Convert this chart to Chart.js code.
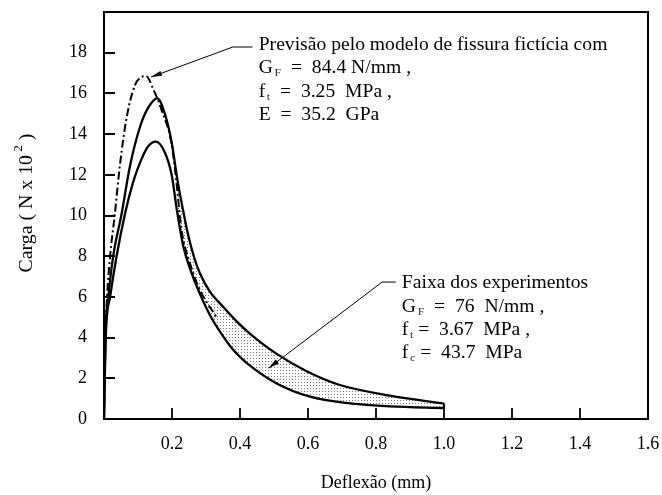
<!DOCTYPE html>
<html><head><meta charset="utf-8">
<script src="https://cdn.jsdelivr.net/npm/chart.js@4/dist/chart.umd.min.js"></script>
<style>html,body{margin:0;padding:0;background:#fff;}#wrap{width:662px;height:495px;}</style>
</head><body><div id="wrap"><canvas id="c" width="662" height="495"></canvas></div>
<script>
// ---- data ----
const xTickValues = [0, 0.2, 0.4, 0.6, 0.8, 1.0, 1.2, 1.4, 1.6];
const xTickLabels = ['', '0.2', '0.4', '0.6', '0.8', '1.0', '1.2', '1.4', '1.6'];
const yTickValues = [0, 2, 4, 6, 8, 10, 12, 14, 16, 18, 20];
const yTickLabels = ['0', '2', '4', '6', '8', '10', '12', '14', '16', '18', ''];

// prediction, fictitious crack model (dash-dot)
const predX = [0, 0.004, 0.009, 0.018, 0.032, 0.047, 0.067, 0.091, 0.110, 0.124, 0.145, 0.169, 0.199, 0.212, 0.228, 0.253, 0.282, 0.331];
const predY = [0, 4.0, 6.0, 8.0, 10.1, 12.5, 14.85, 16.4, 16.8, 16.85, 16.2, 15.2, 13.5, 11.8, 9.3, 7.65, 6.35, 5.0];

// experimental band, upper envelope
const upperX = [0, 0.004, 0.013, 0.027, 0.052, 0.076, 0.106, 0.130, 0.157, 0.179, 0.199, 0.216, 0.232, 0.248, 0.265, 0.282, 0.310, 0.351, 0.390, 0.429, 0.508, 0.596, 0.694, 0.841, 1.0];
const upperY = [0, 4.0, 6.0, 8.0, 10.1, 12.4, 14.36, 15.3, 15.76, 15.0, 13.6, 11.75, 10.3, 9.0, 7.95, 7.16, 6.3, 5.5, 4.8, 4.2, 3.2, 2.35, 1.67, 1.15, 0.76];

// experimental band, lower envelope
const lowerX = [0, 0.005, 0.018, 0.037, 0.062, 0.085, 0.106, 0.130, 0.153, 0.179, 0.199, 0.215, 0.233, 0.257, 0.282, 0.315, 0.351, 0.385, 0.420, 0.508, 0.606, 0.724, 0.841, 1.0];
const lowerY = [0, 4.0, 6.0, 8.0, 10.1, 11.6, 12.6, 13.4, 13.63, 13.1, 12.0, 10.2, 8.5, 7.2, 6.15, 5.0, 4.05, 3.3, 2.75, 1.75, 1.1, 0.77, 0.62, 0.54];

const bandStartX = 0.215; // shading begins on the descending branch

// ---- helpers ----
const pts = (xs, ys) => xs.map((x, i) => ({x: x, y: ys[i]}));
const upperPts = pts(upperX, upperY);
const lowerPts = pts(lowerX, lowerY);
const bandTop = upperPts.filter(p => p.x >= bandStartX);
const bandBottom = lowerPts.filter(p => p.x >= bandStartX);
const closer = [upperPts[upperPts.length - 1], lowerPts[lowerPts.length - 1]];

function stipple() {
  const c = document.createElement('canvas');
  c.width = 3; c.height = 3;
  const g = c.getContext('2d');
  g.fillStyle = '#fff'; g.fillRect(0, 0, 3, 3);
  g.fillStyle = '#7a7a7a'; g.fillRect(1, 1, 1, 1);
  return g.createPattern(c, 'repeat');
}

const FONT = 'Liberation Serif, "Times New Roman", serif';
const TEXT_SIZE = 18;
const STRETCH = 1.09;

const annotations = [
  {
    tip: [0.138, 16.8], knee: [0.379, 18.28], barEnd: 0.437, textX: 0.455,
    lineY: [18.38, 17.25, 16.07, 14.94],
    lines: [
      [['Previsão pelo modelo de fissura fictícia com']],
      [['G'], ['F', 's'], ['  =  84.4 N/mm ,']],
      [['f'], ['t', 's'], ['  =  3.25  MPa ,']],
      [['E  =  35.2  GPa']]
    ]
  },
  {
    tip: [0.484, 2.5], knee: [0.818, 6.73], barEnd: 0.858, textX: 0.876,
    lineY: [6.68, 5.50, 4.37, 3.24],
    lines: [
      [['Faixa dos experimentos']],
      [['G'], ['F', 's'], ['  =  76  N/mm ,']],
      [['f'], ['t', 's'], [' =  3.67  MPa ,']],
      [['f'], ['c', 's'], [' =  43.7  MPa']]
    ]
  }
];

const decor = {
  id: 'decor',
  afterDraw(chart) {
    const ctx = chart.ctx, xs = chart.scales.x, ys = chart.scales.y, a = chart.chartArea;
    ctx.save();
    ctx.strokeStyle = '#000'; ctx.fillStyle = '#000';
    // frame
    ctx.lineWidth = 2;
    ctx.strokeRect(a.left, a.top, a.right - a.left, a.bottom - a.top);
    // inward ticks
    ctx.lineWidth = 1.8;
    ctx.beginPath();
    ys.ticks.forEach(t => {
      if (t.value <= ys.min || t.value >= ys.max) return;
      const y = Math.round(ys.getPixelForValue(t.value));
      ctx.moveTo(a.left, y); ctx.lineTo(a.left + 11, y);
    });
    xs.ticks.forEach(t => {
      if (t.value <= xs.min || t.value >= xs.max) return;
      const x = Math.round(xs.getPixelForValue(t.value));
      ctx.moveTo(x, a.bottom); ctx.lineTo(x, a.bottom - 11);
    });
    ctx.stroke();

    // axis titles
    ctx.font = TEXT_SIZE + 'px ' + FONT;
    ctx.textBaseline = 'middle';
    ctx.textAlign = 'center';
    ctx.fillText('Deflexão (mm)', (a.left + a.right) / 2, 483);
    ctx.save();
    ctx.translate(27, 203);
    ctx.rotate(-Math.PI / 2);
    ctx.scale(1.1, 1);
    ctx.textAlign = 'left';
    const p1 = 'Carga ( N x 10', p3 = ' )';
    ctx.font = TEXT_SIZE + 'px ' + FONT;
    const w1 = ctx.measureText(p1).width, w3 = ctx.measureText(p3).width;
    ctx.font = '12px ' + FONT;
    const w2 = ctx.measureText('2').width + 3;
    const tot = w1 + w2 + w3;
    let x0 = -tot / 2;
    ctx.font = TEXT_SIZE + 'px ' + FONT;
    ctx.fillText(p1, x0, 0);
    ctx.font = '12px ' + FONT;
    ctx.fillText('2', x0 + w1 + 3, -8);
    ctx.font = TEXT_SIZE + 'px ' + FONT;
    ctx.fillText(p3, x0 + w1 + w2, 0);
    ctx.restore();

    // annotations
    annotations.forEach(an => {
      const kx = xs.getPixelForValue(an.knee[0]), ky = ys.getPixelForValue(an.knee[1]);
      const tx = xs.getPixelForValue(an.tip[0]), ty = ys.getPixelForValue(an.tip[1]);
      ctx.lineWidth = 1;
      ctx.beginPath();
      ctx.moveTo(xs.getPixelForValue(an.barEnd), ky);
      ctx.lineTo(kx, ky);
      ctx.lineTo(tx, ty);
      ctx.stroke();
      const ang = Math.atan2(ty - ky, tx - kx), L = 11, W = 2.6;
      ctx.beginPath();
      ctx.moveTo(tx, ty);
      ctx.lineTo(tx - L * Math.cos(ang) + W * Math.sin(ang), ty - L * Math.sin(ang) - W * Math.cos(ang));
      ctx.lineTo(tx - L * Math.cos(ang) - W * Math.sin(ang), ty - L * Math.sin(ang) + W * Math.cos(ang));
      ctx.closePath(); ctx.fill();

      const tx0 = xs.getPixelForValue(an.textX);
      an.lines.forEach((segs, li) => {
        const yy = ys.getPixelForValue(an.lineY[li]);
        ctx.save();
        ctx.translate(tx0, yy);
        ctx.scale(STRETCH, 1);
        ctx.textAlign = 'left';
        ctx.textBaseline = 'middle';
        let cx = 0;
        segs.forEach(s => {
          if (s[1] === 's') {
            ctx.font = '11px ' + FONT;
            ctx.fillStyle = '#333';
            ctx.fillText(s[0], cx + 1.5, 5);
            cx += ctx.measureText(s[0]).width + 1.5;
            ctx.fillStyle = '#000';
          } else {
            ctx.font = TEXT_SIZE + 'px ' + FONT;
            ctx.fillText(s[0], cx, 0);
            cx += ctx.measureText(s[0]).width;
          }
        });
        ctx.restore();
      });
    });
    ctx.restore();
  }
};

const lineBase = {
  showLine: true, pointRadius: 0, borderColor: '#000', backgroundColor: 'transparent',
  cubicInterpolationMode: 'monotone', fill: false
};

const noPad = s => { s.paddingTop = 0; s.paddingBottom = 0; s.paddingLeft = 0; s.paddingRight = 0; };

new Chart(document.getElementById('c'), {
  type: 'scatter',
  data: {
    datasets: [
      Object.assign({}, lineBase, {label: 'Previsão', data: pts(predX, predY), borderWidth: 2, borderDash: [8, 3, 2, 3], order: 0}),
      Object.assign({}, lineBase, {label: 'Superior', data: upperPts, borderWidth: 2.3, order: 1}),
      Object.assign({}, lineBase, {label: 'Inferior', data: lowerPts, borderWidth: 2.3, order: 2}),
      Object.assign({}, lineBase, {label: 'fecho', data: closer, borderWidth: 2, order: 3, cubicInterpolationMode: 'default', tension: 0}),
      Object.assign({}, lineBase, {label: 'faixa', data: bandTop, borderWidth: 0, borderColor: 'transparent', fill: '+1', backgroundColor: stipple(), order: 10}),
      Object.assign({}, lineBase, {label: 'faixa2', data: bandBottom, borderWidth: 0, borderColor: 'transparent', order: 11})
    ]
  },
  options: {
    responsive: false, animation: false, devicePixelRatio: 1,
    layout: {padding: {top: 12, right: 14, left: 0, bottom: 0}},
    plugins: {legend: {display: false}, tooltip: {enabled: false}, title: {display: false}},
    scales: {
      x: {
        type: 'linear', min: 0, max: 1.6,
        afterBuildTicks: s => { s.ticks = xTickValues.map(v => ({value: v})); },
        afterFit: s => { s.height = 76; noPad(s); },
        grid: {display: false, drawTicks: false}, border: {display: false},
        ticks: {autoSkip: false, maxRotation: 0, padding: 14, color: '#000',
          font: {family: FONT, size: TEXT_SIZE},
          callback: (v, i) => xTickLabels[i]}
      },
      y: {
        type: 'linear', min: 0, max: 20,
        afterBuildTicks: s => { s.ticks = yTickValues.map(v => ({value: v})); },
        afterFit: s => { s.width = 104; noPad(s); },
        grid: {display: false, drawTicks: false}, border: {display: false},
        ticks: {autoSkip: false, padding: 17, color: '#000',
          font: {family: FONT, size: TEXT_SIZE},
          callback: (v, i) => yTickLabels[i]}
      }
    }
  },
  plugins: [decor]
});
</script>
</body></html>
